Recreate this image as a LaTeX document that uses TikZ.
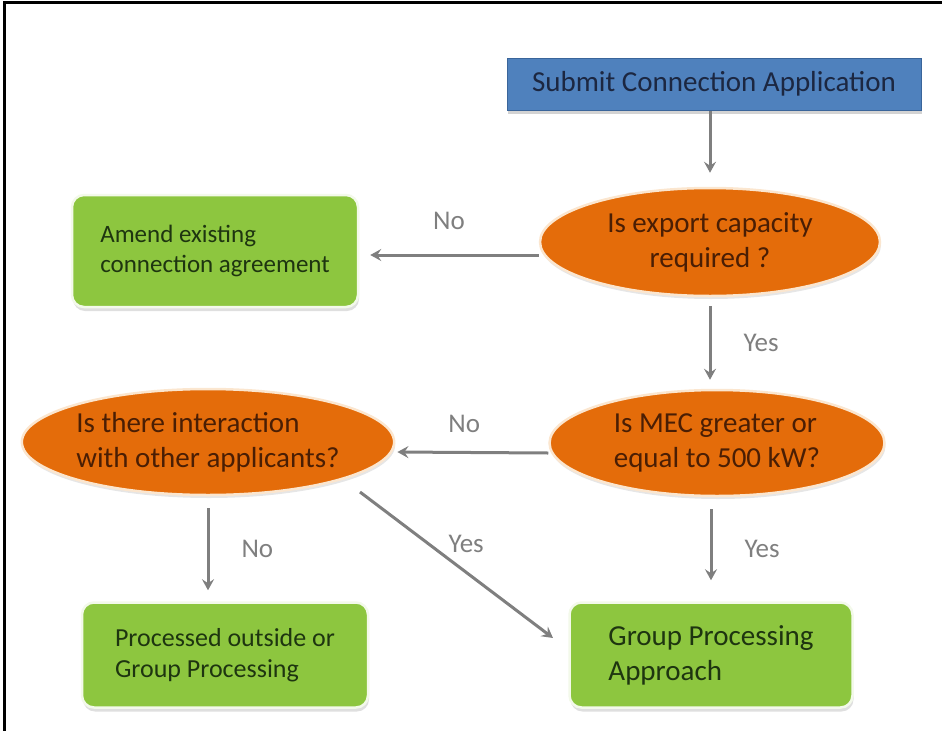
\documentclass[tikz,border=0pt]{standalone}
\usepackage{fontspec}
\setmainfont{Carlito}
\usetikzlibrary{shapes.geometric, arrows.meta, shadows}

\definecolor{boxblue}{HTML}{4F81BD}
\definecolor{boxblueedge}{HTML}{3A659A}
\definecolor{textnavy}{HTML}{1C2741}
\definecolor{qorange}{HTML}{E46C0A}
\definecolor{qedge}{HTML}{FBE6CF}
\definecolor{qtext}{HTML}{4A1E04}
\definecolor{okgreen}{HTML}{8DC63F}
\definecolor{okedge}{HTML}{F3F9EA}
\definecolor{oktext}{HTML}{1E3510}
\definecolor{arrowgray}{HTML}{7F7F7F}

\begin{document}
\begin{tikzpicture}[x=1pt, y=-1pt,
    question/.style={ellipse, fill=qorange, draw=qedge, line width=2.5pt, text=qtext,
      font=\fontsize{29}{35}\selectfont, inner sep=0pt,
      drop shadow={opacity=0.2, shadow xshift=1pt, shadow yshift=-3pt}},
    outcome/.style={rectangle, rounded corners=12pt, fill=okgreen, draw=okedge,
      line width=2.5pt, text=oktext, align=left, inner sep=0pt,
      drop shadow={opacity=0.25, shadow xshift=1pt, shadow yshift=-4pt}},
    flow/.style={draw=arrowgray, line width=3pt, -{Stealth[length=11pt, width=12pt, inset=4pt]}},
    answer/.style={text=arrowgray, font=\fontsize{27}{32}\selectfont, inner sep=0pt}]

  \useasboundingbox (0,0) rectangle (942,731);

  % frame of the picture
  \draw[line width=3pt] (942,2.5) -- (4.5,2.5) -- (4.5,731);

  % start
  \node[rectangle, fill=boxblue, draw=boxblueedge, line width=1pt, text=textnavy,
    font=\fontsize{29}{35}\selectfont, minimum width=414pt, minimum height=52pt,
    drop shadow={opacity=0.35, shadow xshift=1pt, shadow yshift=-4pt}]
    (submit) at (714,84) {Submit Connection Application};

  % questions
  \node[question, minimum width=340pt, minimum height=108pt, align=center]
    (q1) at (710,242) {Is export capacity\\required ?};
  \node[question, minimum width=335pt, minimum height=106pt, align=left]
    (q2) at (717,443) {Is MEC greater or\\equal to 500 kW?};
  \node[question, minimum width=345pt, minimum height=106pt, align=left]
    (q3) at (208,442) {Is there interaction\\with other applicants?};

  % outcomes
  \node[outcome, minimum width=286pt, minimum height=112pt, font=\fontsize{25}{30}\selectfont]
    (amend) at (215,251) {Amend existing\\connection agreement};
  \node[outcome, minimum width=286pt, minimum height=105pt, font=\fontsize{26}{31}\selectfont]
    (processed) at (225,655) {Processed outside or\\Group Processing};
  \node[outcome, minimum width=283pt, minimum height=105pt, font=\fontsize{29}{35}\selectfont]
    (gpa) at (711,655) {Group Processing\\Approach};

  % connectors
  \draw[flow, shorten >=14pt] (submit.south -| q1.north) -- (q1.north);
  \draw[flow, shorten >=11pt] ([yshift=-13pt]q1.west) -- ([yshift=-4pt]amend.east)
    node[answer, midway, above=24pt] (no1) {No};
  \draw[flow, shorten <=9pt, shorten >=9pt] (q1.south) -- (q1.south |- q2.north)
    node[answer, midway, right=32pt] (yes1) {Yes};
  \draw[flow, shorten >=2pt] ([yshift=-10pt]q2.west) -- ([yshift=-10pt]q3.east)
    node[answer, pos=0.55, above=18pt] (no2) {No};
  \draw[flow, shorten <=12pt, shorten >=21pt] (q2.south -| gpa.north) -- (gpa.north)
    node[answer, midway, right=32pt] (yes2) {Yes};
  \draw[flow, shorten <=12pt, shorten >=11pt] (q3.south) -- (q3.south |- processed.north)
    node[answer, midway, right=32pt] (no3) {No};
  \draw[flow] ([xshift=152pt, yshift=-50pt]q3.center) -- ([xshift=-158pt, yshift=17pt]gpa.center)
    node[answer, pos=0.55, above=18pt] (yes3) {Yes};

\end{tikzpicture}
\end{document}
